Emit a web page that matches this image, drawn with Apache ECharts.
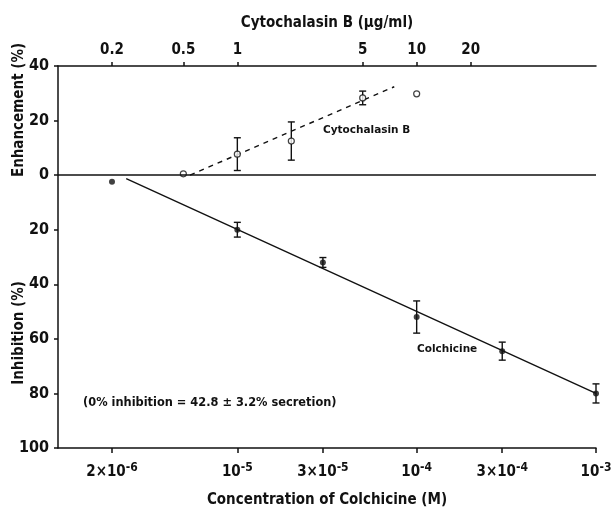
<!DOCTYPE html>
<html>
<head>
<meta charset="utf-8">
<script src="https://cdn.jsdelivr.net/npm/echarts@6/dist/echarts.min.js"></script>
<style>
  html, body { margin: 0; padding: 0; background: #fff; }
  #chart { width: 615px; height: 508px; }
</style>
</head>
<body>
<div id="chart"></div>
<script>
// colchicine (bottom axis, M) -> inhibition %
var colchicineConc = [2e-6, 1e-5, 3e-5, 1e-4, 3e-4, 1e-3];
var colchicineInhib = [2.4, 20, 32, 52, 64.5, 80];
var colchicineErr = [0, 2.7, 1.8, 5.9, 3.3, 3.5];
var colchicineFitConc = [2.4e-6, 1e-3];
var colchicineFitInhib = [1.3, 80];

// cytochalasin B (top axis, ug/ml) -> enhancement %
var cytoConc = [0.5, 1, 2, 5, 10];
var cytoEnh = [0.5, 7.7, 12.5, 28.3, 29.8];
var cytoErr = [0, 6, 7, 2.5, 0];
var cytoFitConc = [0.545, 7.5];
var cytoFitEnh = [0, 32.4];

// tick labels
var bottomTicks = [2e-6, 1e-5, 3e-5, 1e-4, 3e-4, 1e-3];
var bottomTickLabels = ["2×10{s|-6}", "10{s|-5}", "3×10{s|-5}", "10{s|-4}", "3×10{s|-4}", "10{s|-3}"];
var topTicks = [0.2, 0.5, 1, 5, 10, 20];
var topTickLabels = ["0.2", "0.5", "1", "5", "10", "20"];

var FONT = "'Liberation Sans Narrow', 'DejaVu Sans Condensed', 'Liberation Sans', sans-serif";
var SMALL = "'DejaVu Sans', sans-serif";

function pickLabel(ticks, labels) {
  return function (v) {
    for (var i = 0; i < ticks.length; i++) {
      if (Math.abs(Math.log10(v) - Math.log10(ticks[i])) < 1e-6) return labels[i];
    }
    return "";
  };
}

function errorBars(xs, ys, errs, sign) {
  var out = [];
  for (var i = 0; i < xs.length; i++) {
    if (errs[i] > 0) out.push([xs[i], sign * (ys[i] - errs[i]), sign * (ys[i] + errs[i])]);
  }
  return out;
}

function renderErr(params, api) {
  var x = api.value(0);
  var a = api.coord([x, api.value(1)]);
  var b = api.coord([x, api.value(2)]);
  var w = 3.5;
  var st = { stroke: "#111", lineWidth: 1.4 };
  return {
    type: "group",
    children: [
      { type: "line", shape: { x1: a[0], y1: a[1], x2: b[0], y2: b[1] }, style: st },
      { type: "line", shape: { x1: a[0] - w, y1: a[1], x2: a[0] + w, y2: a[1] }, style: st },
      { type: "line", shape: { x1: b[0] - w, y1: b[1], x2: b[0] + w, y2: b[1] }, style: st }
    ]
  };
}

var axisLineStyle = { color: "#111", width: 1.5 };

var myChart = echarts.init(document.getElementById("chart"));
myChart.setOption({
  backgroundColor: "#fff",
  animation: false,
  textStyle: { fontFamily: FONT },
  grid: { left: 58, right: 19, top: 66, bottom: 60, outerBoundsMode: "none", containLabel: false },
  xAxis: [
    {
      type: "log",
      position: "bottom",
      min: 1e-6,
      max: 1e-3,
      name: "Concentration of Colchicine (M)",
      nameLocation: "middle",
      nameGap: 45,
      nameTextStyle: { color: "#111", fontSize: 15, fontWeight: "bold", fontFamily: FONT },
      axisLine: { onZero: false, lineStyle: axisLineStyle },
      axisTick: { customValues: bottomTicks, length: 5, lineStyle: { color: "#111", width: 1.5 } },
      axisLabel: {
        customValues: bottomTicks,
        margin: 14,
        color: "#111",
        fontSize: 15,
        fontWeight: "bold",
        fontFamily: FONT,
        formatter: pickLabel(bottomTicks, bottomTickLabels),
        rich: {
          s: { fontSize: 12, fontWeight: "bold", fontFamily: FONT, color: "#111", padding: [0, 0, 9, 0] }
        }
      },
      splitLine: { show: false },
      minorTick: { show: false }
    },
    {
      type: "log",
      position: "top",
      min: 0.1,
      max: 100,
      name: "Cytochalasin B (µg/ml)",
      nameLocation: "middle",
      nameGap: 35,
      nameTextStyle: { color: "#111", fontSize: 15, fontWeight: "bold", fontFamily: FONT },
      axisLine: { onZero: false, lineStyle: axisLineStyle },
      axisTick: { customValues: topTicks, length: 4, lineStyle: { color: "#111", width: 1.5 } },
      axisLabel: {
        customValues: topTicks,
        margin: 8,
        color: "#111",
        fontSize: 15,
        fontWeight: "bold",
        fontFamily: FONT,
        formatter: pickLabel(topTicks, topTickLabels)
      },
      splitLine: { show: false }
    }
  ],
  yAxis: {
    type: "value",
    min: -100,
    max: 40,
    interval: 20,
    axisLine: { show: true, onZero: false, lineStyle: axisLineStyle },
    axisTick: { show: true, length: 4, lineStyle: { color: "#111", width: 1.5 } },
    axisLabel: {
      margin: 9,
      color: "#111",
      fontSize: 16,
      fontWeight: "bold",
      fontFamily: FONT,
      formatter: function (v) { return String(Math.abs(v)); }
    },
    splitLine: { show: false }
  },
  graphic: [
    {
      type: "text", x: 19, y: 110, rotation: Math.PI / 2,
      style: { text: "Enhancement (%)", font: "bold 15px " + FONT, fill: "#111", align: "center", verticalAlign: "middle" }
    },
    {
      type: "text", x: 19, y: 333, rotation: Math.PI / 2,
      style: { text: "Inhibition (%)", font: "bold 15px " + FONT, fill: "#111", align: "center", verticalAlign: "middle" }
    },
    {
      type: "text", x: 323, y: 130,
      style: { text: "Cytochalasin B", font: "bold 10.5px " + SMALL, fill: "#111", align: "left", verticalAlign: "middle" }
    },
    {
      type: "text", x: 417, y: 349,
      style: { text: "Colchicine", font: "bold 10.5px " + SMALL, fill: "#111", align: "left", verticalAlign: "middle" }
    },
    {
      type: "text", x: 83, y: 403,
      style: { text: "(0% inhibition = 42.8 ± 3.2% secretion)", font: "bold 11.4px " + SMALL, fill: "#111", align: "left", verticalAlign: "middle" }
    }
  ],
  series: [
    {
      name: "Colchicine fit",
      type: "line",
      xAxisIndex: 0,
      symbol: "none",
      lineStyle: { color: "#111", width: 1.4 },
      data: colchicineFitConc.map(function (c, i) { return [c, -colchicineFitInhib[i]]; }),
      markLine: {
        silent: true,
        symbol: "none",
        label: { show: false },
        lineStyle: { color: "#111", width: 1.5, type: "solid" },
        data: [{ yAxis: 0 }]
      }
    },
    {
      name: "Colchicine err",
      type: "custom",
      xAxisIndex: 0,
      renderItem: renderErr,
      data: errorBars(colchicineConc, colchicineInhib, colchicineErr, -1),
      z: 3
    },
    {
      name: "Colchicine",
      type: "scatter",
      xAxisIndex: 0,
      symbol: "circle",
      symbolSize: 6,
      itemStyle: { color: "#111" },
      data: colchicineConc.map(function (c, i) { return [c, -colchicineInhib[i]]; }),
      z: 4
    },
    {
      name: "Cytochalasin fit",
      type: "line",
      xAxisIndex: 1,
      symbol: "none",
      lineStyle: { color: "#111", width: 1.4, type: [5, 5] },
      data: cytoFitConc.map(function (c, i) { return [c, cytoFitEnh[i]]; })
    },
    {
      name: "Cytochalasin err",
      type: "custom",
      xAxisIndex: 1,
      renderItem: renderErr,
      data: errorBars(cytoConc, cytoEnh, cytoErr, 1),
      z: 3
    },
    {
      name: "Cytochalasin B",
      type: "scatter",
      xAxisIndex: 1,
      symbol: "circle",
      symbolSize: 6,
      itemStyle: { color: "#fff", borderColor: "#111", borderWidth: 1.2 },
      data: cytoConc.map(function (c, i) { return [c, cytoEnh[i]]; }),
      z: 4
    }
  ]
});
window.onresize = function () { myChart.resize(); };
</script>
</body>
</html>
